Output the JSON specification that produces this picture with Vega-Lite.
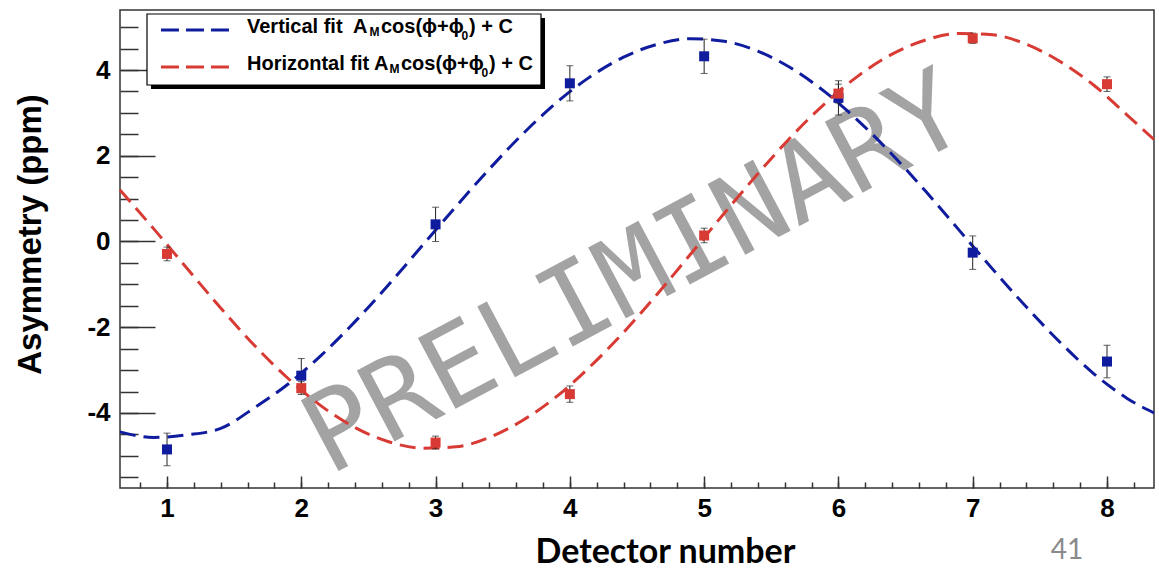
{
  "$schema": "https://vega.github.io/schema/vega-lite/v6.json",
  "width": 1034,
  "height": 478,
  "autosize": {"type": "none"},
  "padding": {"left": 120, "top": 10, "right": 5, "bottom": 82},
  "background": "white",
  "config": {"view": {"stroke": "#333333", "strokeWidth": 1.5}, "font": "Liberation Sans"},
  "data": {"values": [{}]},
  "datasets": {
    "points": [
      {"series": "Vertical", "detector": 1, "asym": -4.85, "err": 0.38},
      {"series": "Vertical", "detector": 2, "asym": -3.13, "err": 0.4},
      {"series": "Vertical", "detector": 3, "asym": 0.4, "err": 0.4},
      {"series": "Vertical", "detector": 4, "asym": 3.69, "err": 0.41},
      {"series": "Vertical", "detector": 5, "asym": 4.32, "err": 0.4},
      {"series": "Vertical", "detector": 6, "asym": 3.35, "err": 0.4},
      {"series": "Vertical", "detector": 7, "asym": -0.26, "err": 0.39},
      {"series": "Vertical", "detector": 8, "asym": -2.8, "err": 0.38},
      {"series": "Horizontal", "detector": 1, "asym": -0.29, "err": 0.16},
      {"series": "Horizontal", "detector": 2, "asym": -3.42, "err": 0.15},
      {"series": "Horizontal", "detector": 3, "asym": -4.69, "err": 0.15},
      {"series": "Horizontal", "detector": 4, "asym": -3.56, "err": 0.19},
      {"series": "Horizontal", "detector": 5, "asym": 0.14, "err": 0.17},
      {"series": "Horizontal", "detector": 6, "asym": 3.45, "err": 0.22},
      {"series": "Horizontal", "detector": 7, "asym": 4.74, "err": 0.12},
      {"series": "Horizontal", "detector": 8, "asym": 3.67, "err": 0.17}
    ],
    "curves": [
      {"series": "Vertical", "detector": 0.65, "asym": -4.44},
      {"series": "Vertical", "detector": 0.9, "asym": -4.57},
      {"series": "Vertical", "detector": 1.15, "asym": -4.51},
      {"series": "Vertical", "detector": 1.4, "asym": -4.36},
      {"series": "Vertical", "detector": 1.65, "asym": -3.88},
      {"series": "Vertical", "detector": 1.9, "asym": -3.33},
      {"series": "Vertical", "detector": 2.15, "asym": -2.65},
      {"series": "Vertical", "detector": 2.4, "asym": -1.87},
      {"series": "Vertical", "detector": 2.65, "asym": -1.01},
      {"series": "Vertical", "detector": 2.9, "asym": -0.1},
      {"series": "Vertical", "detector": 3.15, "asym": 0.81},
      {"series": "Vertical", "detector": 3.4, "asym": 1.69},
      {"series": "Vertical", "detector": 3.65, "asym": 2.51},
      {"series": "Vertical", "detector": 3.9, "asym": 3.24},
      {"series": "Vertical", "detector": 4.15, "asym": 3.84},
      {"series": "Vertical", "detector": 4.4, "asym": 4.3},
      {"series": "Vertical", "detector": 4.65, "asym": 4.6},
      {"series": "Vertical", "detector": 4.9, "asym": 4.73},
      {"series": "Vertical", "detector": 5.15, "asym": 4.67},
      {"series": "Vertical", "detector": 5.4, "asym": 4.44},
      {"series": "Vertical", "detector": 5.65, "asym": 4.04},
      {"series": "Vertical", "detector": 5.9, "asym": 3.49},
      {"series": "Vertical", "detector": 6.15, "asym": 2.81},
      {"series": "Vertical", "detector": 6.4, "asym": 2.03},
      {"series": "Vertical", "detector": 6.65, "asym": 1.17},
      {"series": "Vertical", "detector": 6.9, "asym": 0.26},
      {"series": "Vertical", "detector": 7.15, "asym": -0.65},
      {"series": "Vertical", "detector": 7.4, "asym": -1.53},
      {"series": "Vertical", "detector": 7.65, "asym": -2.35},
      {"series": "Vertical", "detector": 7.9, "asym": -3.08},
      {"series": "Vertical", "detector": 8.15, "asym": -3.66},
      {"series": "Vertical", "detector": 8.35, "asym": -4.0},
      {"series": "Horizontal", "detector": 0.65, "asym": 1.2},
      {"series": "Horizontal", "detector": 0.9, "asym": 0.3},
      {"series": "Horizontal", "detector": 1.15, "asym": -0.63},
      {"series": "Horizontal", "detector": 1.4, "asym": -1.55},
      {"series": "Horizontal", "detector": 1.65, "asym": -2.42},
      {"series": "Horizontal", "detector": 1.9, "asym": -3.19},
      {"series": "Horizontal", "detector": 2.15, "asym": -3.84},
      {"series": "Horizontal", "detector": 2.4, "asym": -4.34},
      {"series": "Horizontal", "detector": 2.65, "asym": -4.67},
      {"series": "Horizontal", "detector": 2.9, "asym": -4.82},
      {"series": "Horizontal", "detector": 3.15, "asym": -4.79},
      {"series": "Horizontal", "detector": 3.4, "asym": -4.57},
      {"series": "Horizontal", "detector": 3.65, "asym": -4.17},
      {"series": "Horizontal", "detector": 3.9, "asym": -3.62},
      {"series": "Horizontal", "detector": 4.15, "asym": -2.92},
      {"series": "Horizontal", "detector": 4.4, "asym": -2.12},
      {"series": "Horizontal", "detector": 4.65, "asym": -1.23},
      {"series": "Horizontal", "detector": 4.9, "asym": -0.29},
      {"series": "Horizontal", "detector": 5.15, "asym": 0.66},
      {"series": "Horizontal", "detector": 5.4, "asym": 1.58},
      {"series": "Horizontal", "detector": 5.65, "asym": 2.45},
      {"series": "Horizontal", "detector": 5.9, "asym": 3.22},
      {"series": "Horizontal", "detector": 6.15, "asym": 3.87},
      {"series": "Horizontal", "detector": 6.4, "asym": 4.37},
      {"series": "Horizontal", "detector": 6.65, "asym": 4.7},
      {"series": "Horizontal", "detector": 6.9, "asym": 4.85},
      {"series": "Horizontal", "detector": 7.15, "asym": 4.82},
      {"series": "Horizontal", "detector": 7.4, "asym": 4.6},
      {"series": "Horizontal", "detector": 7.65, "asym": 4.2},
      {"series": "Horizontal", "detector": 7.9, "asym": 3.65},
      {"series": "Horizontal", "detector": 8.15, "asym": 2.95},
      {"series": "Horizontal", "detector": 8.35, "asym": 2.38}
    ]
  },
  "resolve": {"axis": {"x": "independent", "y": "independent"}},
  "layer": [
    {
      "mark": {"type": "text", "text": "PRELIMINARY", "font": "DejaVu Sans Mono", "fontSize": 110, "angle": -28, "color": "#a3a3a3", "align": "center", "baseline": "alphabetic"},
      "encoding": {
        "x": {"datum": 4.604, "type": "quantitative", "scale": {"domain": [0.65, 8.35], "nice": false, "zero": false},
          "axis": {"orient": "bottom", "values": [0.8, 1, 1.2, 1.4, 1.6, 1.8, 2, 2.2, 2.4, 2.6, 2.8, 3, 3.2, 3.4, 3.6, 3.8, 4, 4.2, 4.4, 4.6, 4.8, 5, 5.2, 5.4, 5.6, 5.8, 6, 6.2, 6.4, 6.6, 6.8, 7, 7.2, 7.4, 7.6, 7.8, 8, 8.2],
            "labels": false, "domain": false, "grid": false, "ticks": true, "tickSize": 6, "offset": -6, "tickColor": "#333333", "tickWidth": 1.5, "title": null}},
        "y": {"datum": -1.481, "type": "quantitative", "scale": {"domain": [-5.75, 5.4], "nice": false, "zero": false},
          "axis": {"orient": "left", "values": [-5.5, -5, -4.5, -4, -3.5, -3, -2.5, -2, -1.5, -1, -0.5, 0, 0.5, 1, 1.5, 2, 2.5, 3, 3.5, 4, 4.5, 5],
            "labels": false, "domain": false, "grid": false, "ticks": true, "tickSize": 18, "offset": -18, "tickColor": "#333333", "tickWidth": 1.5, "title": null}}
      }
    },
    {
      "data": {"name": "curves"},
      "mark": {"type": "line", "strokeDash": [16, 8], "strokeWidth": 3, "interpolate": "monotone"},
      "encoding": {
        "x": {"field": "detector", "type": "quantitative", "scale": {"domain": [0.65, 8.35], "nice": false, "zero": false},
          "axis": {"orient": "bottom", "values": [1, 2, 3, 4, 5, 6, 7, 8], "labelExpr": "'' + datum.value", "ticks": false, "tickSize": 0, "labelPadding": 7,
            "labelFont": "Liberation Sans", "labelFontSize": 26, "labelFontWeight": "bold", "labelColor": "black",
            "domain": false, "grid": false, "title": "Detector number", "titleFont": "Lato", "titleFontSize": 34, "titleFontWeight": "bold", "titleColor": "black",
            "titleX": 545, "titleY": 74, "titleBaseline": "alphabetic", "titleAlign": "center"}},
        "y": {"field": "asym", "type": "quantitative", "scale": {"domain": [-5.75, 5.4], "nice": false, "zero": false},
          "axis": {"orient": "left", "values": [-4, -2, 0, 2, 4], "labelExpr": "datum.value < 0 ? '-' + abs(datum.value) : '' + datum.value", "ticks": false, "tickSize": 0, "labelPadding": 10,
            "labelFont": "Liberation Sans", "labelFontSize": 26, "labelFontWeight": "bold", "labelColor": "black",
            "domain": false, "grid": false, "title": "Asymmetry (ppm)", "titleFont": "Liberation Sans", "titleFontSize": 33, "titleFontWeight": "bold", "titleColor": "black",
            "titleX": -90, "titleY": 224, "titleAngle": -90, "titleBaseline": "middle", "titleAlign": "center"}},
        "color": {"field": "series", "type": "nominal", "scale": {"domain": ["Vertical", "Horizontal"], "range": ["#101c9e", "#d83a34"]}, "legend": null}
      }
    },
    {
      "data": {"name": "points"},
      "mark": {"type": "errorbar", "ticks": true, "size": 7, "thickness": 1, "color": "#222222"},
      "encoding": {
        "x": {"field": "detector", "type": "quantitative", "axis": null},
        "y": {"field": "asym", "type": "quantitative", "axis": null},
        "yError": {"field": "err"}
      }
    },
    {
      "data": {"name": "points"},
      "mark": {"type": "point", "shape": "square", "filled": true, "size": 100, "opacity": 1},
      "encoding": {
        "x": {"field": "detector", "type": "quantitative",
          "axis": {"orient": "bottom", "values": [1, 2, 3, 4, 5, 6, 7, 8], "labels": false, "domain": false, "grid": false, "tickSize": 12, "offset": -12, "tickColor": "#333333", "tickWidth": 1.5, "title": null}},
        "y": {"field": "asym", "type": "quantitative",
          "axis": {"orient": "left", "values": [-4, -2, 0, 2, 4], "labels": false, "domain": false, "grid": false, "tickSize": 35, "offset": -35, "tickColor": "#333333", "tickWidth": 1.5, "title": null}},
        "color": {"field": "series", "type": "nominal", "legend": null}
      }
    },
    {
      "mark": {"type": "rect", "fill": "black"},
      "encoding": {
        "x": {"datum": 0.881, "type": "quantitative", "axis": null}, "x2": {"datum": 3.815},
        "y": {"datum": 5.213, "type": "quantitative", "axis": null}, "y2": {"datum": 3.557}
      }
    },
    {
      "mark": {"type": "rect", "fill": "white", "stroke": "black", "strokeWidth": 1.2},
      "encoding": {
        "x": {"datum": 0.851, "type": "quantitative", "axis": null}, "x2": {"datum": 3.785},
        "y": {"datum": 5.307, "type": "quantitative", "axis": null}, "y2": {"datum": 3.651}
      }
    },
    {
      "mark": {"type": "rule", "color": "#101c9e", "strokeWidth": 3, "strokeDash": [18, 7]},
      "encoding": {
        "x": {"datum": 0.955, "type": "quantitative", "axis": null}, "x2": {"datum": 1.469},
        "y": {"datum": 4.933, "type": "quantitative", "axis": null}
      }
    },
    {
      "mark": {"type": "rule", "color": "#d83a34", "strokeWidth": 3, "strokeDash": [18, 7]},
      "encoding": {
        "x": {"datum": 0.955, "type": "quantitative", "axis": null}, "x2": {"datum": 1.469},
        "y": {"datum": 4.07, "type": "quantitative", "axis": null}
      }
    },
    {
      "mark": {"type": "text", "text": "Vertical fit\u00a0 A", "font": "Liberation Sans", "fontWeight": "bold", "fontSize": 20, "align": "left", "baseline": "alphabetic", "color": "black"},
      "encoding": {"x": {"datum": 1.5957, "type": "quantitative", "axis": null}, "y": {"datum": 4.864, "type": "quantitative", "axis": null}}
    },
    {
      "mark": {"type": "text", "text": "M", "font": "Liberation Sans", "fontWeight": "bold", "fontSize": 12, "align": "left", "baseline": "alphabetic", "color": "black"},
      "encoding": {"x": {"datum": 2.5079, "type": "quantitative", "axis": null}, "y": {"datum": 4.794, "type": "quantitative", "axis": null}}
    },
    {
      "mark": {"type": "text", "text": "cos(ϕ+ϕ", "font": "Liberation Sans", "fontWeight": "bold", "fontSize": 20, "align": "left", "baseline": "alphabetic", "color": "black"},
      "encoding": {"x": {"datum": 2.5936, "type": "quantitative", "axis": null}, "y": {"datum": 4.864, "type": "quantitative", "axis": null}}
    },
    {
      "mark": {"type": "text", "text": "0", "font": "Liberation Sans", "fontWeight": "bold", "fontSize": 12, "align": "left", "baseline": "alphabetic", "color": "black"},
      "encoding": {"x": {"datum": 3.193, "type": "quantitative", "axis": null}, "y": {"datum": 4.7, "type": "quantitative", "axis": null}}
    },
    {
      "mark": {"type": "text", "text": ") + C", "font": "Liberation Sans", "fontWeight": "bold", "fontSize": 20, "align": "left", "baseline": "alphabetic", "color": "black"},
      "encoding": {"x": {"datum": 3.2489, "type": "quantitative", "axis": null}, "y": {"datum": 4.864, "type": "quantitative", "axis": null}}
    },
    {
      "mark": {"type": "text", "text": "Horizontal fit A", "font": "Liberation Sans", "fontWeight": "bold", "fontSize": 20, "align": "left", "baseline": "alphabetic", "color": "black"},
      "encoding": {"x": {"datum": 1.5957, "type": "quantitative", "axis": null}, "y": {"datum": 4.0, "type": "quantitative", "axis": null}}
    },
    {
      "mark": {"type": "text", "text": "M", "font": "Liberation Sans", "fontWeight": "bold", "fontSize": 12, "align": "left", "baseline": "alphabetic", "color": "black"},
      "encoding": {"x": {"datum": 2.6568, "type": "quantitative", "axis": null}, "y": {"datum": 3.93, "type": "quantitative", "axis": null}}
    },
    {
      "mark": {"type": "text", "text": "cos(ϕ+ϕ", "font": "Liberation Sans", "fontWeight": "bold", "fontSize": 20, "align": "left", "baseline": "alphabetic", "color": "black"},
      "encoding": {"x": {"datum": 2.7425, "type": "quantitative", "axis": null}, "y": {"datum": 4.0, "type": "quantitative", "axis": null}}
    },
    {
      "mark": {"type": "text", "text": "0", "font": "Liberation Sans", "fontWeight": "bold", "fontSize": 12, "align": "left", "baseline": "alphabetic", "color": "black"},
      "encoding": {"x": {"datum": 3.3419, "type": "quantitative", "axis": null}, "y": {"datum": 3.837, "type": "quantitative", "axis": null}}
    },
    {
      "mark": {"type": "text", "text": ") + C", "font": "Liberation Sans", "fontWeight": "bold", "fontSize": 20, "align": "left", "baseline": "alphabetic", "color": "black"},
      "encoding": {"x": {"datum": 3.3978, "type": "quantitative", "axis": null}, "y": {"datum": 4.0, "type": "quantitative", "axis": null}}
    },
    {
      "mark": {"type": "text", "text": "41", "font": "Lato", "fontSize": 28, "align": "center", "baseline": "middle", "color": "#8a8a8a"},
      "encoding": {"x": {"datum": 7.702, "type": "quantitative", "axis": null}, "y": {"datum": -7.22, "type": "quantitative", "axis": null}}
    }
  ]
}
